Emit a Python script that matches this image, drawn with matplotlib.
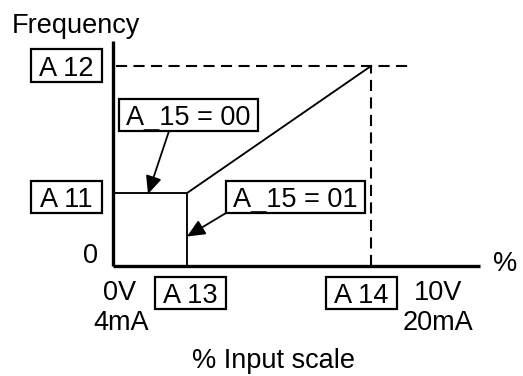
import matplotlib
matplotlib.use("Agg")
import matplotlib.pyplot as plt
from matplotlib.transforms import Affine2D
from matplotlib.patches import Rectangle

plt.rcParams['font.family'] = ['Liberation Sans', 'DejaVu Sans']
plt.rcParams['lines.scale_dashes'] = False

# ---- data (percent of input scale / percent of max frequency) ----
a13_x = 22.8      # start of active range (% input)
a14_x = 79.4      # end of active range (% input)
a11_y = 36.5      # start frequency (%)
a12_y = 100.0     # end frequency (%)
axis_x_max = 112.9
axis_y_max = 112.5
dash_x_end = 90.8

box_labels = ["A 12", "A 11", "A 13", "A 14"]
mode_labels = ["A_15 = 00", "A_15 = 01"]
bottom_left = ["0V", "4mA"]
bottom_right = ["10V", "20mA"]

W, H = 523, 376
fig = plt.figure(figsize=(W / 100, H / 100), dpi=100)
ax = fig.add_axes([0, 0, 1, 1])
# map: x=0% at px 113, 100% at px 438; y=0 at px 266, 100 at px 66
sx, x0 = 3.25, 113
sy, y0 = 2.0, 266
ax.set_xlim(-x0 / sx, (W - x0) / sx)
ax.set_ylim(-(H - y0) / sy, y0 / sy)
ax.axis('off')

# pixel (top-left origin) transform for labels
pix = Affine2D().scale(1, -1).translate(0, H)

FS = 19.5
LW_AX = 2.4
LW = 1.35

# axes
ax.plot([0, 0], [0, axis_y_max], color='black', lw=LW_AX, solid_capstyle='butt')
ax.plot([0, axis_x_max], [0, 0], color='black', lw=LW_AX, solid_capstyle='butt')

# dashed reference lines
ax.plot([0.8, dash_x_end], [a12_y, a12_y], color='black', lw=1.5, dashes=(8, 4.6))
ax.plot([a14_x, a14_x], [0, a12_y], color='black', lw=1.5, dashes=(8, 4.6))

# A_15 = 00 box (start at A11 from 0 to A13) and A_15 = 01 step
ax.plot([0, a13_x, a13_x], [a11_y, a11_y, 0], color='black', lw=LW)
# ramp
ax.plot([a13_x, a14_x], [a11_y, a12_y], color='black', lw=LW)


def boxed(text, cx, cy, w, h):
    ax.add_patch(Rectangle((cx - w / 2, cy - h / 2), w, h, transform=pix,
                           fill=False, lw=1.6, ec='black'))
    ax.text(cx, cy + 10, text, transform=pix, ha='center', va='baseline',
            fontsize=FS)


def plain(text, cx, by, ha='center'):
    ax.text(cx, by, text, transform=pix, ha=ha, va='baseline', fontsize=FS)


plain("Frequency", 12, 33, ha='left')
plain("0", 90, 263)
plain("%", 505, 271)
plain(bottom_left[0], 120, 300)
plain(bottom_left[1], 121, 330)
plain(bottom_right[0], 438, 300)
plain(bottom_right[1], 438, 330)
plain("% Input scale", 273, 368)

boxed(box_labels[0], 66.5, 65.5, 71, 33)
boxed(box_labels[1], 66.5, 197, 71, 32)
boxed(box_labels[2], 190.5, 293, 71, 32)
boxed(box_labels[3], 361.5, 293, 71, 32)
boxed(mode_labels[0], 188.5, 115, 139, 32)
boxed(mode_labels[1], 295.5, 197, 139, 32)

arrow = dict(arrowstyle='-|>,head_length=0.6,head_width=0.27', color='black',
             lw=1.3, shrinkA=0, shrinkB=0, mutation_scale=18)
ax.annotate("", xy=(148, 194), xytext=(169, 131), xycoords=pix, textcoords=pix,
            arrowprops=arrow)
ax.annotate("", xy=(187, 236.5), xytext=(226, 213), xycoords=pix, textcoords=pix,
            arrowprops=arrow)

fig.savefig("out.png", dpi=100)
